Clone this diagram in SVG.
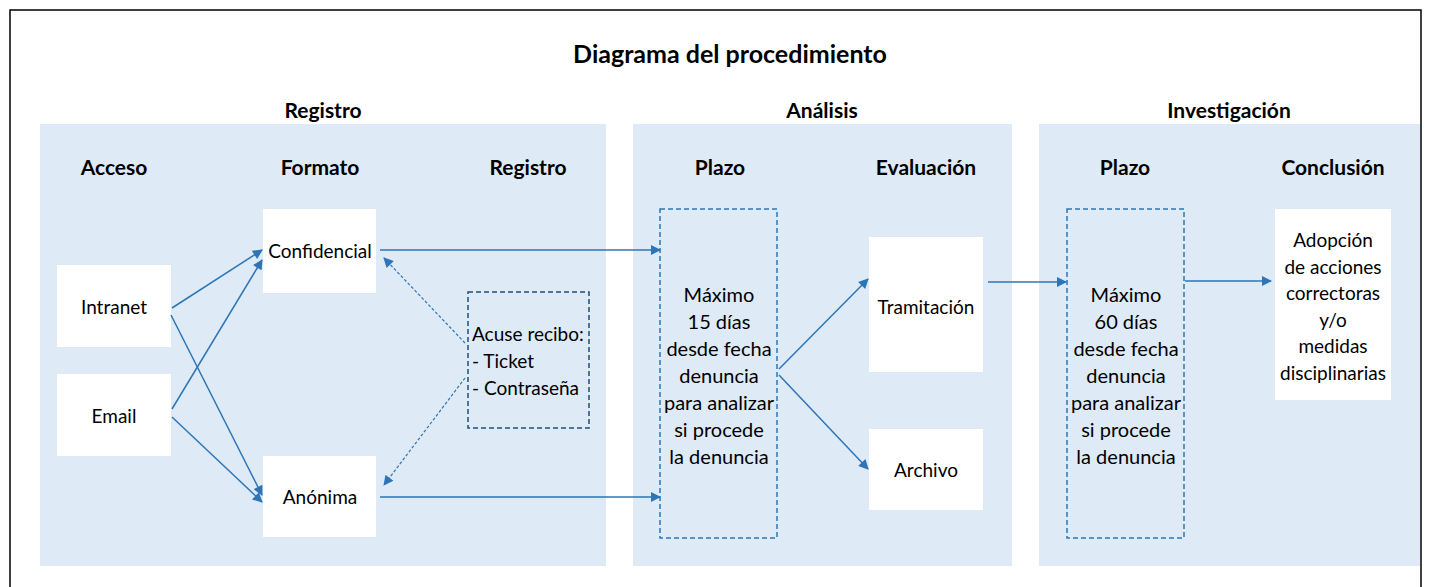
<svg xmlns="http://www.w3.org/2000/svg" width="1429" height="587" viewBox="0 0 1429 587">
<defs>
<style>
text{font-family:Lato,"Noto Sans","Liberation Sans",sans-serif;fill:#000}
.t{font-size:19px;text-anchor:middle}
.p{font-size:20px;text-anchor:middle}
.h{font-size:21px;font-weight:bold;text-anchor:middle}
.panel{fill:#DEEAF6}
.box{fill:#fff}
.dash{fill:none;stroke:#2E75B6;stroke-width:1.5;stroke-dasharray:5 3}
.dash2{fill:none;stroke:#1F4E79;stroke-width:1.5;stroke-dasharray:5 3}
.c{stroke:#2E75B6;stroke-width:1.5;fill:none;marker-end:url(#a)}
.cd{stroke:#2E75B6;stroke-width:1.2;fill:none;stroke-dasharray:3 2;marker-end:url(#a)}
</style>
<marker id="a" viewBox="0 0 10 10" refX="9" refY="5" markerWidth="11" markerHeight="10" markerUnits="userSpaceOnUse" orient="auto"><path d="M0,0 L10,5 L0,10 z" fill="#2E75B6"/></marker>
</defs>
<rect x="0" y="0" width="1429" height="587" fill="#fff"/>
<rect x="10" y="10" width="1411" height="600" fill="none" stroke="#000" stroke-width="1.5"/>
<text x="730" y="63" style="font-size:25px;font-weight:bold;text-anchor:middle">Diagrama del procedimiento</text>
<g id="panels">
<rect class="panel" x="40" y="124" width="566" height="442"/>
<rect class="panel" x="633" y="124" width="379" height="442"/>
<rect class="panel" x="1039" y="124" width="381" height="442"/>
<text class="h" x="323" y="118">Registro</text>
<text class="h" x="822" y="118">Análisis</text>
<text class="h" x="1229" y="118">Investigación</text>
<text class="h" x="114" y="175">Acceso</text>
<text class="h" x="320" y="175">Formato</text>
<text class="h" x="528" y="175">Registro</text>
<text class="h" x="720" y="175">Plazo</text>
<text class="h" x="926" y="175">Evaluación</text>
<text class="h" x="1125" y="175">Plazo</text>
<text class="h" x="1333" y="175">Conclusión</text>
</g>
<g id="intranet"><rect class="box" x="57" y="265" width="114" height="82"/><text class="t" x="114" y="314">Intranet</text></g>
<g id="email"><rect class="box" x="57" y="374" width="114" height="82"/><text class="t" x="114" y="423">Email</text></g>
<g id="confidencial"><rect class="box" x="263" y="209" width="113" height="84"/><text class="t" x="320" y="258">Confidencial</text></g>
<g id="anonima"><rect class="box" x="263" y="456" width="113" height="81"/><text class="t" x="320" y="504">Anónima</text></g>
<g id="acuse"><rect class="dash2" x="468" y="292" width="121" height="136"/>
<text style="font-size:19px" x="472" y="341">Acuse recibo:</text>
<text style="font-size:19px" x="472" y="368">- Ticket</text>
<text style="font-size:19px" x="472" y="395">- Contraseña</text></g>
<g id="plazo1"><rect class="dash" x="660" y="209" width="117" height="329"/>
<text class="p" x="719" y="302">Máximo</text><text class="p" x="719" y="329">15 días</text><text class="p" x="719" y="356">desde fecha</text><text class="p" x="719" y="383">denuncia</text><text class="p" x="719" y="410">para analizar</text><text class="p" x="719" y="437">si procede</text><text class="p" x="719" y="464">la denuncia</text></g>
<g id="tramitacion"><rect class="box" x="869" y="237" width="114" height="135"/><text class="t" x="926" y="314">Tramitación</text></g>
<g id="archivo"><rect class="box" x="869" y="429" width="114" height="81"/><text class="t" x="926" y="477">Archivo</text></g>
<g id="plazo2"><rect class="dash" x="1067" y="209" width="117" height="329"/>
<text class="p" x="1126" y="302">Máximo</text><text class="p" x="1126" y="329">60 días</text><text class="p" x="1126" y="356">desde fecha</text><text class="p" x="1126" y="383">denuncia</text><text class="p" x="1126" y="410">para analizar</text><text class="p" x="1126" y="437">si procede</text><text class="p" x="1126" y="464">la denuncia</text></g>
<g id="conclusion"><rect class="box" x="1275" y="209" width="116" height="191"/>
<text class="t" x="1333" y="247">Adopción</text><text class="t" x="1333" y="274">de acciones</text><text class="t" x="1333" y="300">correctoras</text><text class="t" x="1333" y="327">y/o</text><text class="t" x="1333" y="353">medidas</text><text class="t" x="1333" y="380">disciplinarias</text></g>
<g id="connectors">
<line class="c" x1="172" y1="308" x2="262" y2="250"/>
<line class="c" x1="171" y1="315" x2="262" y2="495"/>
<line class="c" x1="172" y1="409" x2="262" y2="260"/>
<line class="c" x1="172" y1="417" x2="262" y2="502"/>
<line class="c" x1="380" y1="250" x2="660" y2="250"/>
<line class="c" x1="380" y1="497" x2="660" y2="497"/>
<line class="cd" x1="465" y1="343" x2="384" y2="258"/>
<line class="cd" x1="465" y1="378" x2="384" y2="485"/>
<line class="c" x1="779" y1="369" x2="868" y2="279"/>
<line class="c" x1="779" y1="375" x2="868" y2="469"/>
<line class="c" x1="988" y1="282" x2="1066" y2="282"/>
<line class="c" x1="1185" y1="281" x2="1271" y2="281"/>
</g>
</svg>
